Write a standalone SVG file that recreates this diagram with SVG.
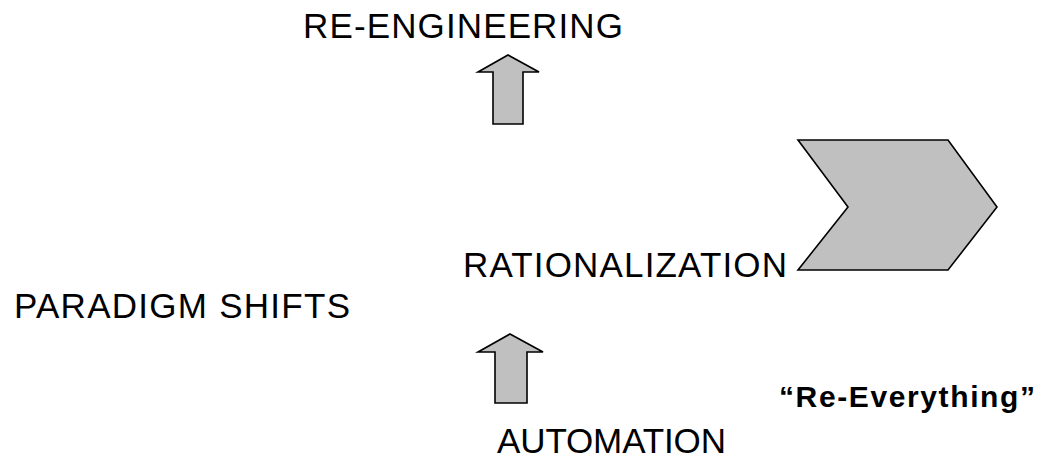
<svg xmlns="http://www.w3.org/2000/svg" width="1049" height="458" viewBox="0 0 1049 458">
<style>
.t{font-family:"Liberation Sans",Arial,sans-serif;font-size:35px;fill:#000}
.b{font-family:"Liberation Sans",Arial,sans-serif;font-size:30px;font-weight:bold;fill:#000}
.s{fill:#c0c0c0;stroke:#000;stroke-width:1.6;stroke-linejoin:miter}
</style>
<rect width="1049" height="458" fill="#fff"/>
<g id="reengineering"><text class="t" x="303" y="38" textLength="320" lengthAdjust="spacing">RE-ENGINEERING</text></g>
<g id="rationalization"><text class="t" x="463" y="277" textLength="324" lengthAdjust="spacing">RATIONALIZATION</text></g>
<g id="paradigm"><text class="t" x="14" y="318" textLength="336" lengthAdjust="spacing">PARADIGM SHIFTS</text></g>
<g id="automation"><text class="t" x="497" y="453" textLength="229" lengthAdjust="spacing">AUTOMATION</text></g>
<g id="reeverything"><text class="b" x="779" y="407" textLength="256" lengthAdjust="spacing">“Re-Everything”</text></g>
<g id="chevron"><polygon class="s" points="798,140 948,140 997,207 948,270 798,270 848,207"/></g>
<g id="connectors">
<polygon class="s" points="508,55 539,72 523,72 523,124 493,124 493,72 478,72"/>
<polygon class="s" points="510,334 543,352 527,352 527,403 495,403 495,352 478,352"/>
</g>
</svg>
